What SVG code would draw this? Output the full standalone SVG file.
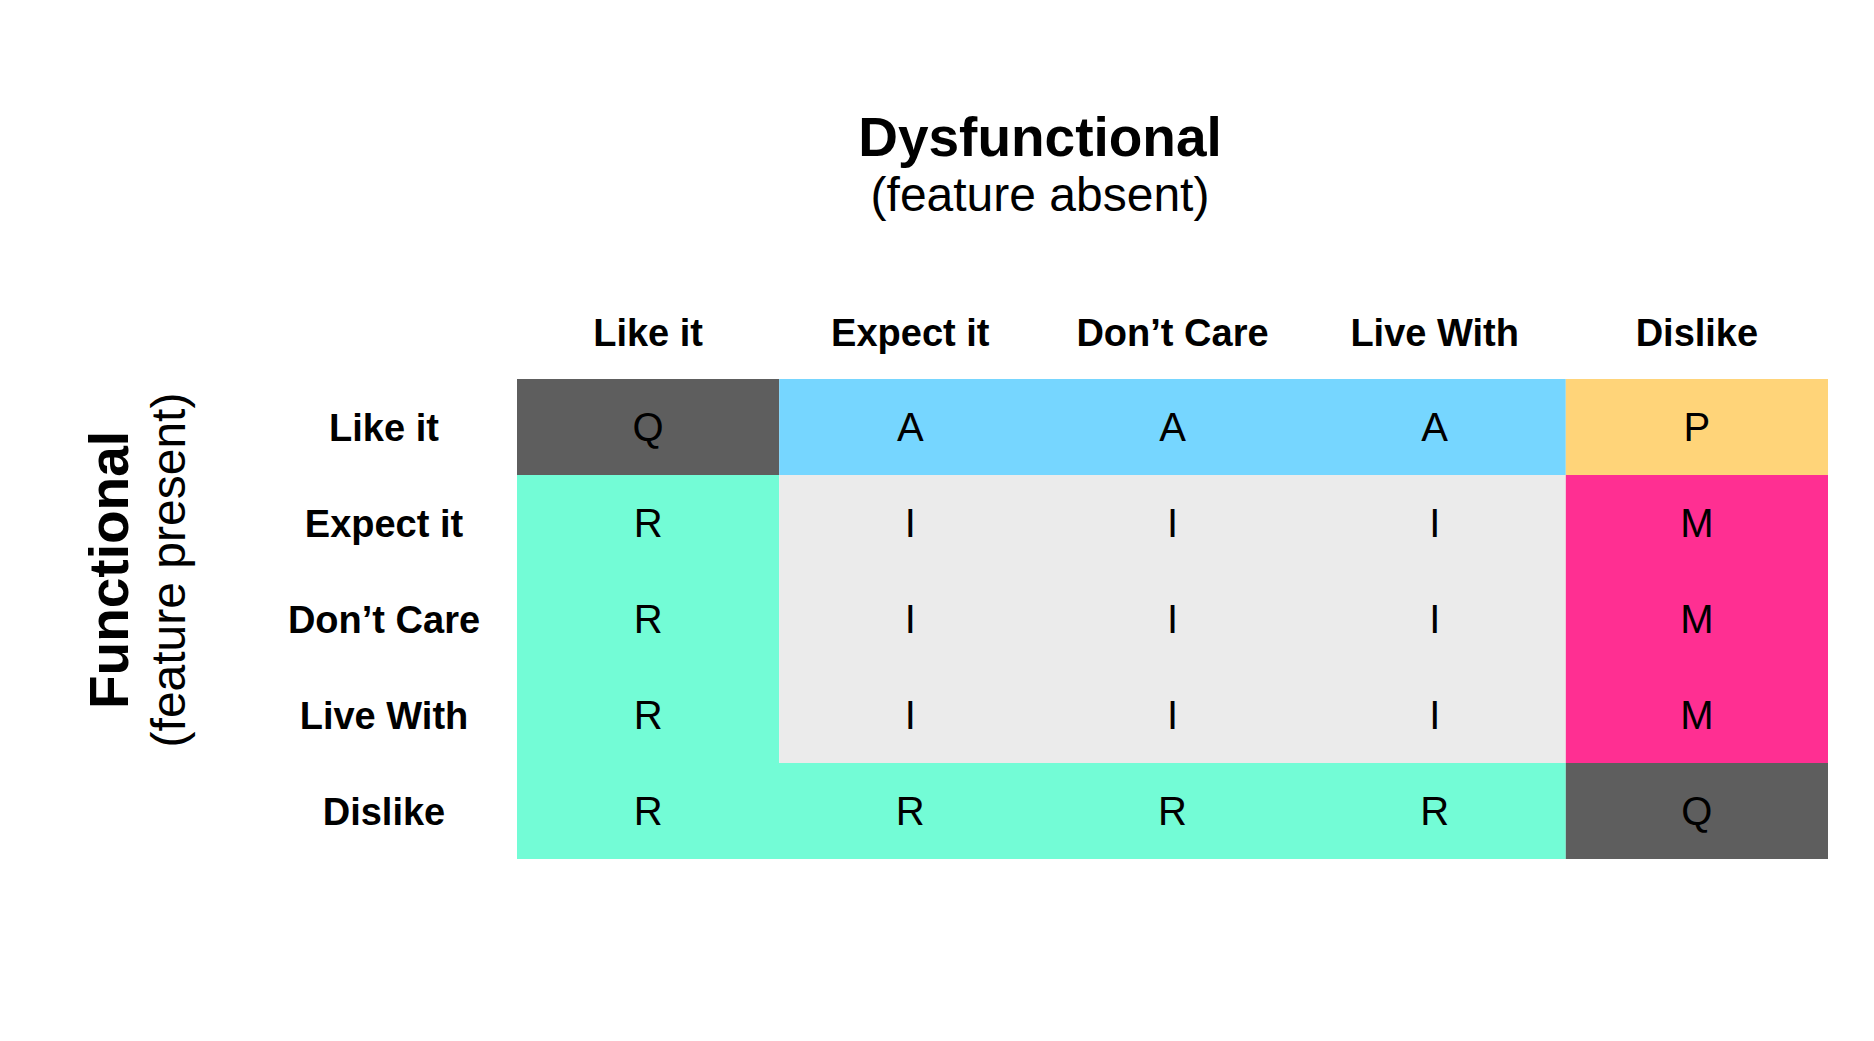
<svg xmlns="http://www.w3.org/2000/svg" width="1874" height="1041" viewBox="0 0 1874 1041">
<style>
text{font-family:"Liberation Sans",Arial,sans-serif;fill:#000;text-anchor:middle}
.title{font-size:55px;font-weight:bold}
.sub{font-size:48px}
.hdr{font-size:38px;font-weight:bold}
.cell{font-size:40px}
.q{fill:#5E5E5E}.a{fill:#76D6FF}.p{fill:#FFD479}.m{fill:#FF2F92}.r{fill:#73FCD6}.i{fill:#EBEBEB}
</style>
<rect width="1874" height="1041" fill="#fff"/>
<g id="title">
<text class="title" x="1040" y="156">Dysfunctional</text>
<text class="sub" x="1040" y="211">(feature absent)</text>
</g>
<g id="side-title">
<text class="title" transform="translate(128,570) rotate(-90)">Functional</text>
<text class="sub" transform="translate(185,570) rotate(-90)">(feature present)</text>
</g>
<g id="col-headers">
<text class="hdr" x="648.1" y="346">Like it</text>
<text class="hdr" x="910.3" y="346">Expect it</text>
<text class="hdr" x="1172.5" y="346">Don’t Care</text>
<text class="hdr" x="1434.7" y="346">Live With</text>
<text class="hdr" x="1696.9" y="346">Dislike</text>
</g>
<g id="row-headers">
<text class="hdr" x="384" y="441">Like it</text>
<text class="hdr" x="384" y="537">Expect it</text>
<text class="hdr" x="384" y="633">Don’t Care</text>
<text class="hdr" x="384" y="729">Live With</text>
<text class="hdr" x="384" y="825">Dislike</text>
</g>
<g id="grid-fills">
<rect class="q" x="517" y="379" width="262.2" height="96"/>
<rect class="a" x="779.2" y="379" width="786.6" height="96"/>
<rect class="p" x="1565.8" y="379" width="262.2" height="96"/>
<rect class="r" x="517" y="475" width="262.2" height="288"/>
<rect class="i" x="779.2" y="475" width="786.6" height="288"/>
<rect class="m" x="1565.8" y="475" width="262.2" height="288"/>
<rect class="r" x="517" y="763" width="1048.8" height="96"/>
<rect class="q" x="1565.8" y="763" width="262.2" height="96"/>
</g>
<g id="row1">
<text class="cell" x="648.1" y="441">Q</text>
<text class="cell" x="910.3" y="441">A</text>
<text class="cell" x="1172.5" y="441">A</text>
<text class="cell" x="1434.7" y="441">A</text>
<text class="cell" x="1696.9" y="441">P</text>
</g>
<g id="row2">
<text class="cell" x="648.1" y="537">R</text>
<text class="cell" x="910.3" y="537">I</text>
<text class="cell" x="1172.5" y="537">I</text>
<text class="cell" x="1434.7" y="537">I</text>
<text class="cell" x="1696.9" y="537">M</text>
</g>
<g id="row3">
<text class="cell" x="648.1" y="633">R</text>
<text class="cell" x="910.3" y="633">I</text>
<text class="cell" x="1172.5" y="633">I</text>
<text class="cell" x="1434.7" y="633">I</text>
<text class="cell" x="1696.9" y="633">M</text>
</g>
<g id="row4">
<text class="cell" x="648.1" y="729">R</text>
<text class="cell" x="910.3" y="729">I</text>
<text class="cell" x="1172.5" y="729">I</text>
<text class="cell" x="1434.7" y="729">I</text>
<text class="cell" x="1696.9" y="729">M</text>
</g>
<g id="row5">
<text class="cell" x="648.1" y="825">R</text>
<text class="cell" x="910.3" y="825">R</text>
<text class="cell" x="1172.5" y="825">R</text>
<text class="cell" x="1434.7" y="825">R</text>
<text class="cell" x="1696.9" y="825">Q</text>
</g>
<g id="connectors"/>
</svg>
